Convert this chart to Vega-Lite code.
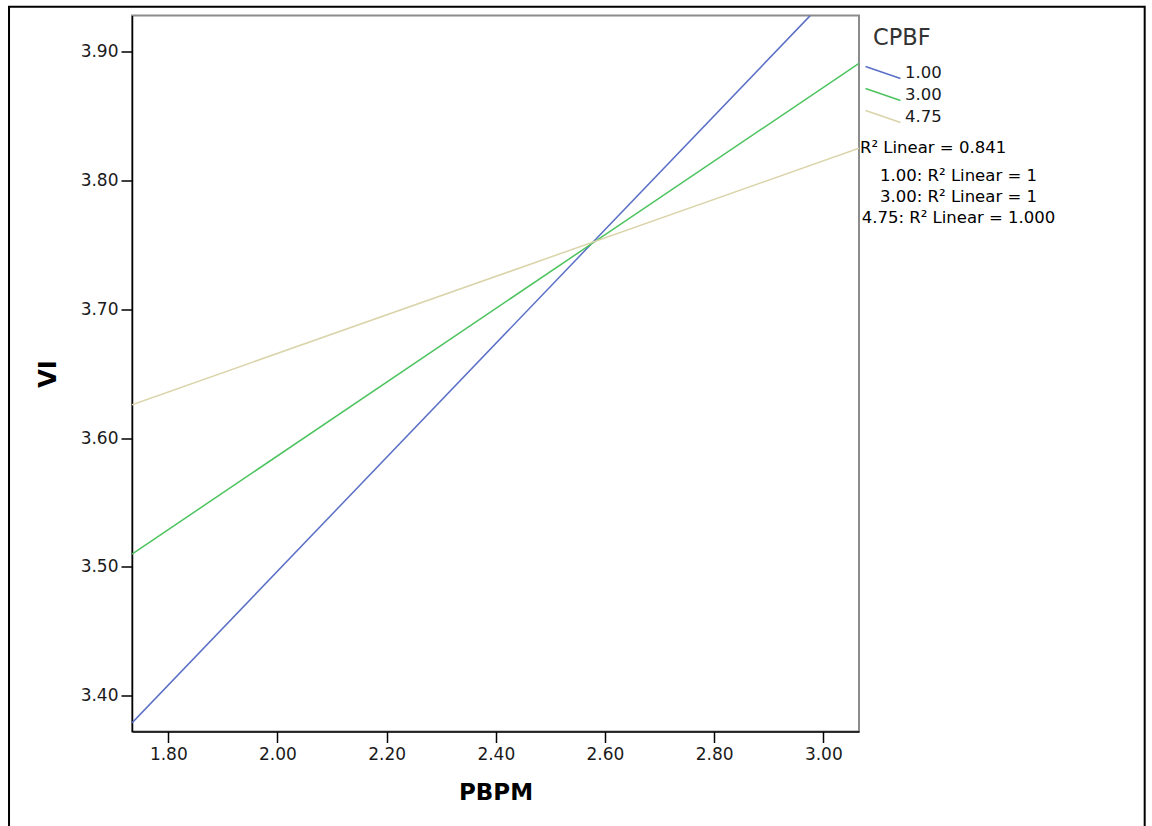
{
  "$schema": "https://vega.github.io/schema/vega-lite/v6.json",
  "autosize": {"type": "none"},
  "padding": {"left": 132, "top": 15.5, "right": 293, "bottom": 94.5},
  "width": 727,
  "height": 716,
  "background": "white",
  "config": {
    "view": {"stroke": "#8c8c8c", "strokeWidth": 2},
    "font": "DejaVu Sans",
    "axis": {
      "grid": false,
      "domainColor": "#000000",
      "domainWidth": 1.5,
      "tickColor": "#000000",
      "tickWidth": 1.5,
      "tickSize": 11,
      "labelFont": "DejaVu Sans",
      "labelFontSize": 17,
      "labelColor": "#1a1a1a",
      "titleFont": "DejaVu Sans",
      "titleFontWeight": "bold",
      "titleColor": "#000000"
    }
  },
  "data": {
    "values": [
      {"PBPM": 1.7335, "VI": 3.379, "CPBF": "1.00", "fit": "1.00: R² Linear = 1"},
      {"PBPM": 2.976, "VI": 3.928, "CPBF": "1.00", "fit": "1.00: R² Linear = 1"},
      {"PBPM": 1.7335, "VI": 3.510, "CPBF": "3.00", "fit": "3.00: R² Linear = 1"},
      {"PBPM": 3.0654, "VI": 3.891, "CPBF": "3.00", "fit": "3.00: R² Linear = 1"},
      {"PBPM": 1.7335, "VI": 3.626, "CPBF": "4.75", "fit": "4.75: R² Linear = 1.000"},
      {"PBPM": 3.0654, "VI": 3.825, "CPBF": "4.75", "fit": "4.75: R² Linear = 1.000"}
    ]
  },
  "encoding": {
    "x": {
      "field": "PBPM", "type": "quantitative",
      "scale": {"domain": [1.7335, 3.0654], "nice": false, "zero": false},
      "axis": {"values": [1.8, 2.0, 2.2, 2.4, 2.6, 2.8, 3.0], "format": ".2f", "title": "PBPM", "titleFontSize": 23, "labelPadding": 4, "titlePadding": 19}
    },
    "y": {
      "field": "VI", "type": "quantitative",
      "scale": {"domain": [3.3723, 3.9281], "nice": false, "zero": false},
      "axis": {"values": [3.4, 3.5, 3.6, 3.7, 3.8, 3.9], "format": ".2f", "title": "VI", "titleFontSize": 24, "labelPadding": 3, "titlePadding": 20}
    }
  },
  "layer": [
    {
      "data": {"values": [{"x1": 1.5082, "x2": 3.5888, "y1": 3.2960, "y2": 3.9349}]},
      "mark": {"type": "rect", "filled": false, "stroke": "#000000", "strokeWidth": 2, "clip": false},
      "encoding": {
        "x": {"field": "x1", "type": "quantitative"},
        "x2": {"field": "x2"},
        "y": {"field": "y1", "type": "quantitative"},
        "y2": {"field": "y2"}
      }
    },
    {
      "mark": {"type": "line", "strokeWidth": 1.5, "clip": true},
      "encoding": {
        "color": {
          "field": "CPBF", "type": "nominal",
          "scale": {"domain": ["1.00", "3.00", "4.75"], "range": ["#5a6fc6", "#4cc35e", "#d9d4a9"]},
          "legend": {
            "orient": "none", "legendX": 741, "legendY": 11.5,
            "title": "CPBF", "titleFontSize": 22.5, "titleFont": "DejaVu Sans", "titleFontWeight": "normal", "titleColor": "#333333", "titlePadding": 13,
            "symbolType": "M-1.94,-0.67L1.94,0.67", "symbolSize": 324, "symbolStrokeWidth": 1.5,
            "labelFontSize": 16.5, "labelFont": "DejaVu Sans", "labelColor": "#1a1a1a", "labelOffset": 12,
            "rowPadding": 2, "padding": 0
          }
        }
      }
    },
    {
      "mark": {"type": "point", "opacity": 0, "clip": true},
      "encoding": {
        "shape": {
          "field": "fit", "type": "nominal",
          "scale": {"domain": ["1.00: R² Linear = 1", "3.00: R² Linear = 1", "4.75: R² Linear = 1.000"]},
          "legend": {
            "orient": "none", "legendX": 728, "legendY": 124,
            "title": "R² Linear = 0.841", "titleFontSize": 16.5, "titleFont": "DejaVu Sans", "titleFontWeight": "normal", "titleColor": "#000000", "titlePadding": 12,
            "symbolSize": 1, "symbolOpacity": 0, "symbolStrokeWidth": 0,
            "labelAlign": "center", "labelOffset": 82, "labelLimit": 400,
            "labelFontSize": 16.5, "labelFont": "DejaVu Sans", "labelColor": "#000000",
            "rowPadding": 4, "padding": 0
          }
        }
      }
    }
  ]
}
